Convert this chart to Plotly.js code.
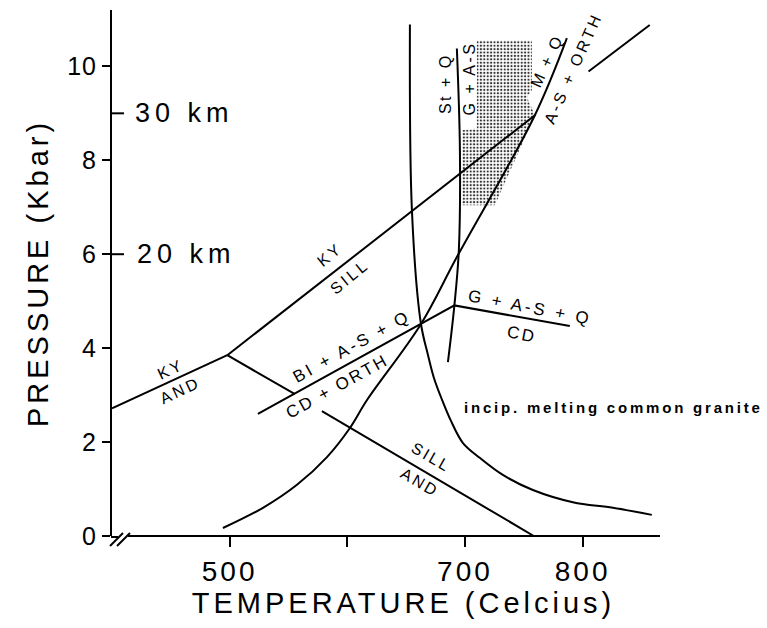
<!DOCTYPE html>
<html>
<head>
<meta charset="utf-8">
<script src="https://cdn.plot.ly/plotly-3.0.1.min.js"></script>
<style>
  body { margin: 0; padding: 0; background: #fff; }
  #chart { width: 767px; height: 628px; }
  .xtitle, .ytitle { letter-spacing: 4px; }
  .xtitle { transform: translateX(15px); }
  .xtick text { letter-spacing: 3px; }
  .ytick text { letter-spacing: 1px; }
</style>
</head>
<body>
<div id="chart"></div>
<script>
// ---- Data (Temperature in °C, Pressure in kbar) ----
const kyAndT = [400, 498];
const kyAndP = [2.72, 3.85];

const kySillT = [498, 759.4, null, 805, 857];
const kySillP = [3.85, 8.96, null, 9.89, 10.88];

const sillAndT = [498, 555.5, null, 578.4, 758.5];
const sillAndP = [3.85, 3.02, null, 2.66, 0];

const biCdT = [524, 662.5, 691, 789.1];
const biCdP = [2.60, 4.51, 4.91, 4.47];

const meltT = [653.2, 654.9, 662.5, 668.6, 673.7, 680.5, 688.1, 698.3, 712.8, 732.2, 757.7, 791.7, 825.7, 858.8];
const meltP = [10.89, 6.94, 4.53, 3.85, 3.36, 2.90, 2.45, 1.98, 1.66, 1.30, 0.98, 0.72, 0.60, 0.45];

const muscT = [494.3, 528.3, 557.2, 582.7, 602.2, 616.6, 662.5, 693.1, 759.4, 786.6];
const muscP = [0.17, 0.60, 1.09, 1.68, 2.30, 2.89, 4.51, 5.94, 8.96, 10.60];

const stT = [693.1, 695.7, 694.8, 691, 685.5];
const stP = [10.38, 8.21, 6.09, 4.91, 3.70];

const stippleT = [710.1, 756.8, 756.8, 752.6, 759.4, 725.4, 697.4, 697.4, 710.1, 710.1];
const stippleP = [10.55, 10.55, 9.49, 9.34, 8.96, 7.04, 7.04, 8.64, 8.68, 10.55];

const xTickVals = [500, 600, 700, 800];
const xTickText = ['500', '', '700', '800'];
const yTickVals = [0, 2, 4, 6, 8, 10];
const yTickText = ['0', '2', '4', '6', '8', '10'];

const depthLabels = ['30 km', '20 km'];
const depthP = [9, 6];

// ---- Traces ----
const lineStyle = { color: '#000', width: 2 };
function lineTrace(x, y, shape) {
  return { type: 'scatter', mode: 'lines', x: x, y: y, line: Object.assign({ shape: shape || 'linear' }, lineStyle),
           connectgaps: false, hoverinfo: 'skip', showlegend: false };
}

const traces = [
  { type: 'scatter', mode: 'lines', x: stippleT, y: stippleP, fill: 'toself',
    fillcolor: 'rgba(255,255,255,0)',
    fillpattern: { shape: '.', size: 3.4, solidity: 0.33, fgcolor: '#333', bgcolor: '#fff', fillmode: 'replace' },
    line: { width: 0, color: 'rgba(0,0,0,0)' }, hoverinfo: 'skip', showlegend: false },
  lineTrace(kyAndT, kyAndP),
  lineTrace(kySillT, kySillP),
  lineTrace(sillAndT, sillAndP),
  lineTrace(biCdT, biCdP),
  lineTrace(meltT, meltP, 'spline'),
  lineTrace(muscT, muscP, 'spline'),
  lineTrace(stT, stP, 'spline')
];

// ---- Layout ----
const FONT = 'Liberation Sans, Arial, Helvetica, sans-serif';
function sp(t, s) { return '<span style="letter-spacing:' + s + 'px">' + t + '</span>'; }
function lab(text, x, y, angle, size, spacing, extra) {
  return Object.assign({ x: x, y: y, xref: 'x', yref: 'y', text: sp(text, spacing), showarrow: false,
    textangle: angle, font: { family: FONT, size: size, color: '#000' } }, extra || {});
}

const annotations = [
  lab(depthLabels[0], 417.8, depthP[0], 0, 27, 5, { xanchor: 'left' }),
  lab(depthLabels[1], 419.5, depthP[1], 0, 27, 5, { xanchor: 'left' }),
  lab('KY', 449.3, 3.55, -25, 16, 3),
  lab('AND', 457.8, 3.09, -25, 16, 3),
  lab('KY', 585.2, 6.0, -39, 16, 3),
  lab('SILL', 602.2, 5.53, -39, 16, 3),
  lab('BI + A-S + Q', 603.9, 4.04, -29, 17, 3),
  lab('CD + ORTH', 591.2, 3.19, -29, 17, 2.5),
  lab('G + A-S + Q', 755.1, 4.86, 11, 17, 3),
  lab('CD', 748.3, 4.30, 11, 17, 2.5),
  lab('SILL', 671.9, 1.68, 30, 16, 2.5),
  lab('AND', 661.7, 1.13, 30, 16, 2.5),
  lab('St + Q', 682.9, 9.64, -90, 16, 2.5),
  lab('G + A-S', 704.2, 9.74, -90, 16, 2.5),
  lab('M + Q', 769.6, 10.13, -65, 16, 2.5),
  lab('A-S + ORTH', 791.7, 9.96, -66, 16, 3),
  lab('<b>incip. melting common granite</b>', 826.5, 2.74, 0, 15, 2.8)
];

// paper coords helpers (plot area: 553 x 526 px)
function px(p) { return (p - 112) / 553; }
function py(p) { return (536 - p) / 526; }

const shapes = [
  // x axis line (starts after the break)
  { type: 'line', xref: 'paper', yref: 'paper', x0: px(128), x1: px(660), y0: 0, y1: 0, line: { color: '#000', width: 2 } },
  // foot of y axis
  { type: 'line', xref: 'paper', yref: 'paper', x0: px(111), x1: px(118), y0: py(537), y1: py(537), line: { color: '#000', width: 2 } },
  // break slashes
  { type: 'line', xref: 'paper', yref: 'paper', x0: px(110), x1: px(123), y0: py(546), y1: py(533), line: { color: '#000', width: 2 } },
  { type: 'line', xref: 'paper', yref: 'paper', x0: px(117), x1: px(130), y0: py(546), y1: py(533), line: { color: '#000', width: 2 } },
  // depth ticks (inside)
  { type: 'line', xref: 'paper', yref: 'y', x0: 0, x1: px(124), y0: depthP[0], y1: depthP[0], line: { color: '#000', width: 2 } },
  { type: 'line', xref: 'paper', yref: 'y', x0: 0, x1: px(124), y0: depthP[1], y1: depthP[1], line: { color: '#000', width: 2 } }
];

const layout = {
  width: 767, height: 628,
  margin: { l: 112, r: 102, t: 10, b: 92, pad: 0 },
  paper_bgcolor: '#fff', plot_bgcolor: '#fff',
  font: { family: FONT, color: '#000' },
  showlegend: false,
  xaxis: {
    range: [400, 870], showgrid: false, zeroline: false, showline: false,
    tickmode: 'array', tickvals: xTickVals, ticktext: xTickText,
    ticks: 'outside', ticklen: 10, tickwidth: 2, tickcolor: '#000',
    tickfont: { family: FONT, size: 28, color: '#000' },
    title: { text: 'TEMPERATURE (Celcius)', font: { family: FONT, size: 29, color: '#000' }, standoff: 6 },
    automargin: false, fixedrange: true
  },
  yaxis: {
    range: [0, 11.2], showgrid: false, zeroline: false, showline: true, linewidth: 2, linecolor: '#000',
    tickmode: 'array', tickvals: yTickVals, ticktext: yTickText,
    ticks: 'outside', ticklen: 8, tickwidth: 2, tickcolor: '#000',
    tickfont: { family: FONT, size: 25, color: '#000' },
    title: { text: 'PRESSURE (Kbar)', font: { family: FONT, size: 29, color: '#000' }, standoff: 10 },
    automargin: false, fixedrange: true
  },
  annotations: annotations,
  shapes: shapes
};

Plotly.newPlot('chart', traces, layout, { staticPlot: true, displayModeBar: false });
</script>
</body>
</html>
